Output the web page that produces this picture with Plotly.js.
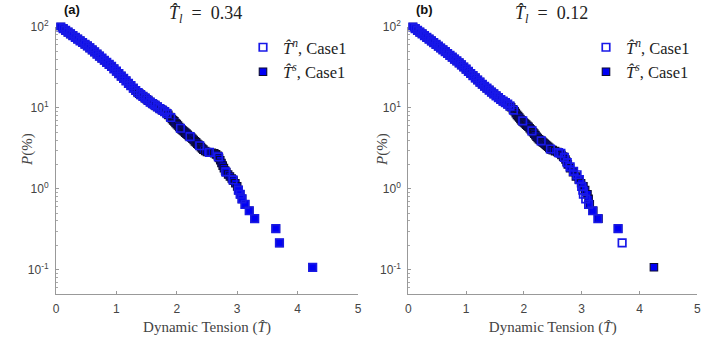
<!DOCTYPE html>
<html>
<head>
<meta charset="utf-8">
<script src="https://cdn.plot.ly/plotly-3.0.1.min.js"></script>
<style>body{margin:0;background:#fff}</style>
</head>
<body>
<div id="chart" style="width:727px;height:339px"></div>
<script>
// ---- Panel (a): T_l = 0.34 ----
const aTnT = [0.08,0.12,0.16,0.20,0.24,0.28,0.32,0.36,0.40,0.44,0.48,0.52,0.56,0.60,0.64,0.68,0.72,0.76,0.80,0.84,
  0.88,0.92,0.96,1.00,1.04,1.08,1.12,1.16,1.20,1.24,1.28,1.32,1.36,1.40,1.44,1.48,1.52,1.56,1.60,1.64,1.68,1.72,1.76,1.80,1.84,
  1.90,2.06,2.22,2.38,2.54,2.69,2.81,2.93,3.02,3.05,3.08,3.13,3.20,3.29,3.64,3.70,4.25];
const aTnP = [100,95.2,90.6,86.3,82.2,78.2,74.5,70.9,67.5,64.3,61.2,58.3,55.2,52.0,49.1,46.3,43.6,41.1,38.8,36.6,
  34.4,32.5,30.4,28.4,26.5,24.7,23.1,21.6,20.1,18.8,17.5,16.4,15.4,14.6,13.9,13.2,12.5,11.8,11.3,10.8,10.3,9.8,9.4,9.0,8.5,
  7.6,5.6,4.4,3.4,2.81,2.48,1.62,1.29,0.963,0.856,0.749,0.642,0.535,0.428,0.321,0.214,0.107];
const aTsT = [0.08,0.12,0.16,0.20,0.24,0.28,0.32,0.36,0.40,0.44,0.48,0.52,0.56,0.60,0.64,0.68,0.72,0.76,0.80,0.84,
  0.88,0.92,0.96,1.00,1.04,1.08,1.12,1.16,1.20,1.24,1.28,
  1.32,1.35,1.38,1.41,1.44,1.47,1.50,1.53,1.56,1.59,1.62,1.65,1.68,1.71,1.74,1.77,1.80,1.83,1.86,1.89,1.92,
  1.94,1.96,1.98,2.00,2.02,2.04,2.06,2.08,2.10,2.12,2.14,2.16,2.18,2.20,2.22,2.24,2.26,2.28,2.30,2.32,2.34,2.36,2.38,2.40,2.42,2.44,
  2.47,2.50,2.54,2.58,2.62,2.65,2.68,2.70,2.72,2.74,2.76,2.78,2.80,2.82,2.85,2.88,2.91,2.94,2.97,3.00,
  3.02,3.05,3.08,3.13,3.20,3.29,3.64,3.70,4.25];
const aTsP = [100,95.2,90.6,86.3,82.2,78.2,74.5,70.9,67.5,64.3,61.2,58.3,55.2,52.0,49.1,46.3,43.6,41.1,38.8,36.6,
  34.4,32.5,30.4,28.4,26.5,24.7,23.1,21.6,20.1,18.8,17.5,
  16.4,15.6,15.0,14.4,13.9,13.3,12.8,12.3,11.8,11.4,11.0,10.6,10.3,9.9,9.6,9.3,9.0,8.6,8.2,7.7,7.3,
  7.0,6.8,6.5,6.3,6.05,5.8,5.6,5.4,5.25,5.1,4.95,4.8,4.65,4.5,4.4,4.3,4.15,4.0,3.85,3.75,3.6,3.5,3.4,3.27,3.15,3.05,
  2.93,2.85,2.81,2.79,2.75,2.66,2.55,2.4,2.25,2.08,1.93,1.8,1.68,1.6,1.5,1.42,1.34,1.26,1.17,1.07,
  0.963,0.856,0.749,0.642,0.535,0.428,0.321,0.214,0.107];

// ---- Panel (b): T_l = 0.12 ----
const bTnT = [0.08,0.12,0.16,0.20,0.24,0.28,0.32,0.36,0.40,0.44,0.48,0.52,0.56,0.60,0.64,0.68,0.72,0.76,0.80,0.84,
  0.88,0.92,0.96,1.00,1.04,1.08,1.12,1.16,1.20,1.24,1.28,1.32,1.36,1.40,1.44,1.48,1.52,1.56,1.60,1.64,1.68,1.72,1.76,
  1.82,1.98,2.14,2.30,2.46,2.60,
  2.64,2.70,2.75,2.80,2.86,2.92,2.96,3.00,3.02,3.03,3.07,3.12,3.19,3.28,3.63,3.70];
const bTnP = [100,95.5,91.0,86.5,82.3,78.3,74.5,70.9,67.4,64.1,60.9,57.9,55.0,52.2,49.6,47.0,44.6,42.3,40.1,38.0,
  36.0,34.0,32.0,30.1,28.3,26.6,25.0,23.5,22.1,20.8,19.6,18.5,17.5,16.6,15.7,14.9,14.1,13.4,12.7,12.1,11.6,11.1,10.5,
  9.4,6.9,5.2,3.9,3.1,2.8,
  2.75,2.45,2.1,1.87,1.64,1.49,1.3,1.07,0.963,0.856,0.749,0.642,0.535,0.428,0.321,0.214];
const bTsT = [0.08,0.12,0.16,0.20,0.24,0.28,0.32,0.36,0.40,0.44,0.48,0.52,0.56,0.60,0.64,0.68,0.72,0.76,0.80,0.84,
  0.88,0.92,0.96,1.00,1.04,1.08,1.12,1.16,1.20,1.24,1.28,1.32,1.36,1.40,1.44,1.48,1.52,1.56,1.60,1.64,1.68,1.72,1.76,
  1.78,1.81,1.84,1.86,1.88,1.90,1.92,1.94,1.96,1.98,2.00,2.02,2.04,2.06,2.08,2.10,2.12,2.14,2.16,2.18,2.20,2.22,2.24,
  2.26,2.28,2.30,2.32,2.34,2.36,2.38,2.40,2.42,2.44,2.47,2.50,2.54,2.58,2.62,2.65,2.68,2.72,2.74,2.76,2.80,2.85,2.90,
  2.95,2.99,3.03,3.06,3.10,3.12,3.14,3.20,3.29,3.63,4.25];
const bTsP = [100,95.5,91.0,86.5,82.3,78.3,74.5,70.9,67.4,64.1,60.9,57.9,55.0,52.2,49.6,47.0,44.6,42.3,40.1,38.0,
  36.0,34.0,32.0,30.1,28.3,26.6,25.0,23.5,22.1,20.8,19.6,18.5,17.5,16.6,15.7,14.9,14.1,13.4,12.7,12.1,11.6,11.1,10.5,
  10.2,9.6,9.1,8.6,8.2,7.9,7.6,7.3,7.0,6.8,6.6,6.4,6.2,6.0,5.85,5.6,5.4,5.2,5.0,4.8,4.6,4.4,4.25,
  4.1,4.0,3.9,3.8,3.7,3.6,3.5,3.4,3.3,3.2,3.07,3.0,2.92,2.85,2.75,2.62,2.5,2.3,2.15,2.0,1.8,1.6,1.42,
  1.3,1.17,1.07,0.963,0.856,0.749,0.642,0.535,0.428,0.321,0.107];

// ---- Labels / ticks ----
const xTickVals = [0,1,2,3,4,5];
const yTickVals = [0.1,1,10,100];
const yTickText = ['10<sup>-1</sup>','10<sup>0</sup>','10<sup>1</sup>','10<sup>2</sup>'];
const yMinorVals = [0.06,0.07,0.08,0.09,0.2,0.3,0.4,0.5,0.6,0.7,0.8,0.9,2,3,4,5,6,7,8,9,20,30,40,50,60,70,80,90];
const seriesNames = ['<i>T\u0302</i><sup><i>n</i></sup>, Case1', '<i>T\u0302</i><sup><i>s</i></sup>, Case1'];
const panelTitles = ['<i>T\u0302</i><sub><i>l</i></sub>\u2002=\u20020.34', '<i>T\u0302</i><sub><i>l</i></sub>\u2002=\u20020.12'];
const panelTags = ['(a)', '(b)'];
const xTitle = 'Dynamic Tension (<i>T\u0302</i>)';
const yTitle = '<i>P</i>(%)';

const serif = 'Liberation Serif, Times New Roman, serif';
const sans = 'Liberation Sans, Arial, sans-serif';
const blue = '#0000f5';
const openBlue = '#1818e8';
const darkEdge = '#0c0c34';

function sTrace(x, y, xa, ya, leg) {
  return {type:'scatter', mode:'markers', x:x, y:y, xaxis:xa, yaxis:ya, legend:leg, name:seriesNames[1],
    legendrank:2, cliponaxis:false,
    marker:{symbol:'square', size:7.5, color:blue, line:{width:1.1, color:darkEdge}}};
}
function nTrace(x, y, xa, ya, leg) {
  return {type:'scatter', mode:'markers', x:x, y:y, xaxis:xa, yaxis:ya, legend:leg, name:seriesNames[0],
    legendrank:1, cliponaxis:false,
    marker:{symbol:'square-open', size:7.5, color:openBlue, line:{width:1.7, color:openBlue}}};
}

const data = [
  sTrace(aTsT, aTsP, 'x', 'y', 'legend'),
  nTrace(aTnT, aTnP, 'x', 'y', 'legend'),
  sTrace(bTsT, bTsP, 'x2', 'y2', 'legend2'),
  nTrace(bTnT, bTnP, 'x2', 'y2', 'legend2')
];

function xAxis(dom, anchor) {
  return {domain:dom, anchor:anchor, range:[0,5], tickmode:'array', tickvals:xTickVals,
    ticks:'inside', ticklen:3, tickcolor:'#999', showline:true, linecolor:'#999', linewidth:1,
    showgrid:false, zeroline:false, ticklabelstandoff:4,
    tickfont:{family:sans, size:12, color:'#444'},
    title:{text:xTitle, font:{family:serif, size:15, color:'#444'}, standoff:6}};
}
function yAxis(anchor) {
  return {domain:[0.1327,0.9204], anchor:anchor, type:'log', range:[-1.301,2], tickmode:'array',
    tickvals:yTickVals, ticktext:yTickText, ticks:'inside', ticklen:3, tickcolor:'#999',
    minor:{tickmode:'array', tickvals:yMinorVals, ticks:'inside', ticklen:2, tickcolor:'#aaa', showgrid:false},
    showline:true, linecolor:'#999', linewidth:1, showgrid:false, zeroline:false, ticklabelstandoff:4,
    tickfont:{family:sans, size:12, color:'#444'}};
}

const legendBase = {bgcolor:'rgba(0,0,0,0)', borderwidth:0, font:{family:serif, size:16.5, color:'#222'},
  xanchor:'left', yanchor:'top', tracegroupgap:0};

const layout = {
  width:727, height:339, margin:{l:0, r:0, t:0, b:0},
  paper_bgcolor:'#fff', plot_bgcolor:'#fff', showlegend:true,
  xaxis: xAxis([0.0770,0.4924], 'y'),
  yaxis: yAxis('x'),
  xaxis2: xAxis([0.5616,0.9591], 'y2'),
  yaxis2: yAxis('x2'),
  legend: Object.assign({x:243/727, y:1-30/339}, legendBase),
  legend2: Object.assign({x:586/727, y:1-30/339}, legendBase),
  annotations: [
    {xref:'paper', yref:'paper', x:205/727, y:1-15/339, text:panelTitles[0], showarrow:false,
     xanchor:'center', yanchor:'middle', font:{family:serif, size:18, color:'#222'}},
    {xref:'paper', yref:'paper', x:551/727, y:1-15/339, text:panelTitles[1], showarrow:false,
     xanchor:'center', yanchor:'middle', font:{family:serif, size:18, color:'#222'}},
    {xref:'paper', yref:'paper', x:62/727, y:1-10/339, text:'<b>'+panelTags[0]+'</b>', showarrow:false,
     xanchor:'left', yanchor:'middle', font:{family:sans, size:13, color:'#111'}},
    {xref:'paper', yref:'paper', x:414/727, y:1-10/339, text:'<b>'+panelTags[1]+'</b>', showarrow:false,
     xanchor:'left', yanchor:'middle', font:{family:sans, size:13, color:'#111'}},
    {xref:'paper', yref:'paper', x:27/727, y:1-150/339, text:yTitle, showarrow:false, textangle:-90,
     xanchor:'center', yanchor:'middle', font:{family:serif, size:15, color:'#444'}},
    {xref:'paper', yref:'paper', x:382/727, y:1-150/339, text:yTitle, showarrow:false, textangle:-90,
     xanchor:'center', yanchor:'middle', font:{family:serif, size:15, color:'#444'}}
  ]
};

Plotly.newPlot('chart', data, layout, {staticPlot:true, displayModeBar:false});
</script>
</body>
</html>
